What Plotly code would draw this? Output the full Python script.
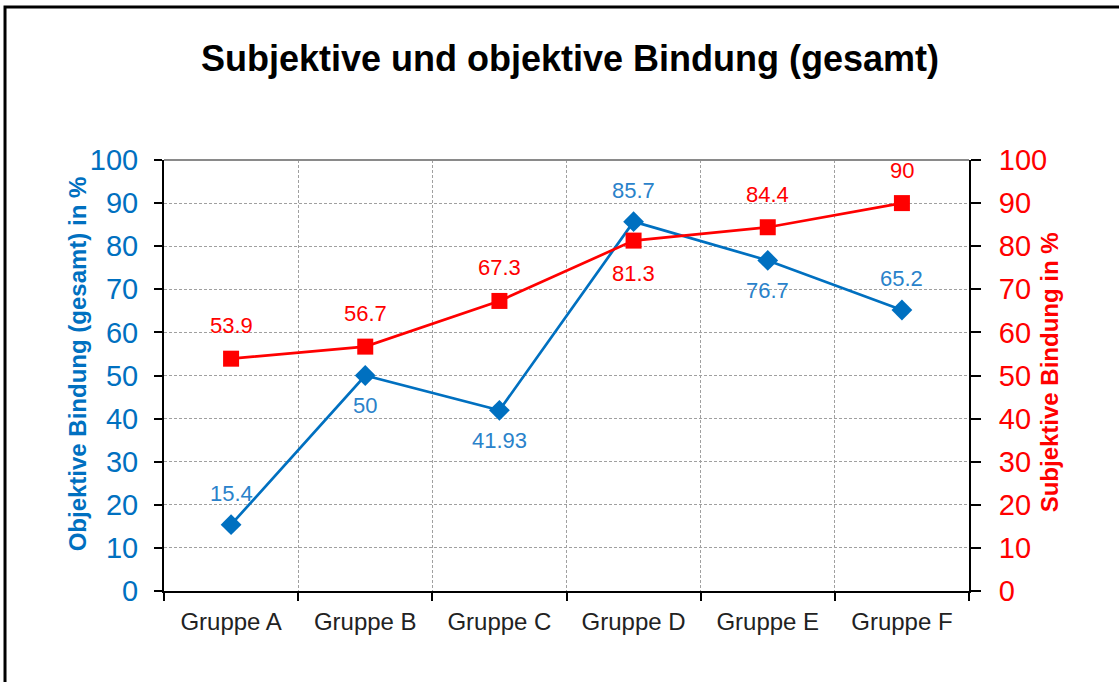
import plotly.graph_objects as go

categories = ["Gruppe A", "Gruppe B", "Gruppe C", "Gruppe D", "Gruppe E", "Gruppe F"]
objektive = [15.4, 50, 41.93, 85.7, 76.7, 65.2]
subjektive = [53.9, 56.7, 67.3, 81.3, 84.4, 90]
obj_label_pos = ["above", "below", "below", "above", "below", "above"]
subj_label_pos = ["above", "above", "above", "below", "above", "above"]
y_ticks = list(range(0, 101, 10))

BLUE = "#0070C0"
BLUE_TXT = "#2A82CA"
RED = "#FF0000"
FONT = "Liberation Sans, Arial, sans-serif"

fig = go.Figure()
fig.add_trace(go.Scatter(
    x=categories, y=objektive, mode="lines+markers", name="Objektive Bindung",
    line=dict(color=BLUE, width=2.7),
    marker=dict(symbol="diamond", size=16, color=BLUE),
    yaxis="y", showlegend=False, cliponaxis=False,
))
fig.add_trace(go.Scatter(
    x=categories, y=subjektive, mode="lines+markers", name="Subjektive Bindung",
    line=dict(color=RED, width=2.7),
    marker=dict(symbol="square", size=16, color=RED),
    yaxis="y2", showlegend=False, cliponaxis=False,
))

annotations = []
for c, v, p in zip(categories, objektive, obj_label_pos):
    annotations.append(dict(x=c, y=v, xref="x", yref="y", text=f"{v:g}", showarrow=False,
                            yshift=31 if p == "above" else -30,
                            font=dict(family=FONT, size=22, color=BLUE_TXT)))
for c, v, p in zip(categories, subjektive, subj_label_pos):
    annotations.append(dict(x=c, y=v, xref="x", yref="y2", text=f"{v:g}", showarrow=False,
                            yshift=33 if p == "above" else -33,
                            font=dict(family=FONT, size=22, color=RED)))

annotations.append(dict(x=-0.1267, y=0.527, xref="paper", yref="paper",
                        text="<b>Objektive Bindung (gesamt) in %</b>", textangle=-90,
                        showarrow=False, font=dict(family=FONT, size=24, color=BLUE)))
annotations.append(dict(x=1.119, y=0.508, xref="paper", yref="paper",
                        text="<b>Subjektive Bindung in %</b>", textangle=-90,
                        showarrow=False, font=dict(family=FONT, size=24, color=RED)))

grid = dict(showgrid=True, gridcolor="#a0a0a0", griddash="3px,2px", gridwidth=1)

fig.update_layout(
    width=1119, height=682,
    margin=dict(l=164, r=150, t=160, b=91),
    paper_bgcolor="white", plot_bgcolor="white",
    title=dict(text="<b>Subjektive und objektive Bindung (gesamt)</b>",
               x=(570 - 164) / 805, xanchor="center", xref="paper",
               y=1 - 58 / 682, yanchor="middle",
               font=dict(family=FONT, size=36, color="black")),
    xaxis=dict(type="category", range=[-0.5, 5.5], tickson="boundaries",
               ticks="outside", ticklen=8, tickcolor="black", tickwidth=2,
               showline=True, linecolor="black", linewidth=2,
               ticklabelstandoff=8,
               tickfont=dict(family=FONT, size=24, color="#222222"),
               **grid),
    yaxis=dict(range=[0, 100], tickvals=y_ticks, ticks="outside", ticklen=8,
               tickcolor="black", tickwidth=2, showline=True, linecolor="black", linewidth=2,
               ticklabelstandoff=10,
               tickfont=dict(family=FONT, size=29, color=BLUE), zeroline=False,
               **grid),
    yaxis2=dict(range=[0, 100], tickvals=y_ticks, overlaying="y", side="right",
                ticks="outside", ticklen=10, tickcolor="black", tickwidth=2,
                showline=True, linecolor="black", linewidth=2, showgrid=False,
                ticklabelstandoff=12,
                tickfont=dict(family=FONT, size=29, color=RED), zeroline=False),
    annotations=annotations,
    shapes=[
        dict(type="line", xref="paper", yref="paper", x0=0, x1=1, y0=1, y1=1,
             line=dict(color="#8a8a8a", width=2)),
        dict(type="rect", xref="paper", yref="paper", x0=-0.1975, x1=1.5, y0=-0.5, y1=1.355,
             line=dict(color="black", width=3), layer="below"),
    ],
)

fig.write_html("out.html", config={"displayModeBar": False},
               post_script="document.body.style.margin='0';")
